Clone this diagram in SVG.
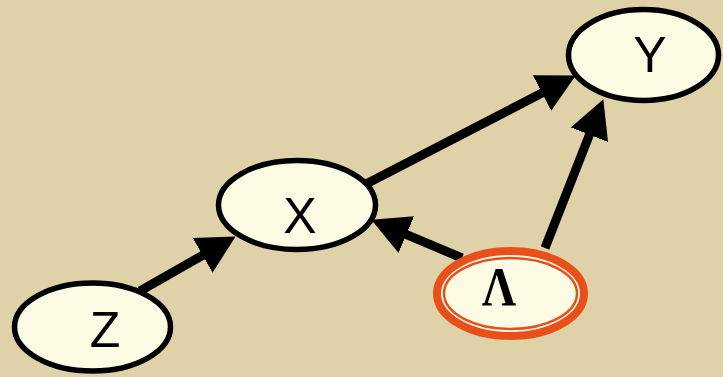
<svg xmlns="http://www.w3.org/2000/svg" width="723" height="377" viewBox="0 0 723 377">
<defs>
<style>
.node{fill:#fdfbe4;stroke:#000;stroke-width:5.5}
.lbl{font-family:"Liberation Sans",Arial,sans-serif;font-size:50px;fill:#000;text-anchor:middle}
.lbls{font-family:"Liberation Serif","Times New Roman",serif;font-size:55px;font-weight:bold;fill:#000;text-anchor:middle}
.edge{stroke:#000;stroke-width:9;fill:none;marker-end:url(#arr)}
</style>
<marker id="arr" markerUnits="userSpaceOnUse" markerWidth="42" markerHeight="44" refX="1" refY="22" orient="auto">
<path d="M0,2 L38,22 L0,42 Z" fill="#000"/>
</marker>
</defs>
<rect width="723" height="377" fill="#dfd2a9"/>
<g id="edges">
<line class="edge" x1="140" y1="291" x2="203.5" y2="254.8"/>
<line class="edge" x1="366" y1="184" x2="542.9" y2="92.6"/>
<line class="edge" x1="462" y1="258" x2="405.4" y2="234.2"/>
<line class="edge" x1="545" y1="248" x2="589.8" y2="133.8"/>
</g>
<g id="node-Y">
<ellipse class="node" cx="643.5" cy="55" rx="75" ry="45.5"/>
<text class="lbl" x="650" y="72">Y</text>
</g>
<g id="node-X">
<ellipse class="node" cx="297" cy="205" rx="78.5" ry="44.5"/>
<text class="lbl" x="300" y="233">X</text>
</g>
<g id="node-Z">
<ellipse class="node" cx="92.5" cy="327" rx="78" ry="44"/>
<text class="lbl" x="105" y="347">Z</text>
</g>
<g id="node-Lambda">
<ellipse cx="510.5" cy="293.5" rx="73.5" ry="42.5" fill="#fffdf2" stroke="#e8501a" stroke-width="8"/>
<ellipse cx="510.5" cy="293.5" rx="66.5" ry="35.5" fill="#fdfbe4" stroke="#e8501a" stroke-width="2.5"/>
<text class="lbls" x="499" y="305" textLength="34" lengthAdjust="spacingAndGlyphs">Λ</text>
</g>
</svg>
